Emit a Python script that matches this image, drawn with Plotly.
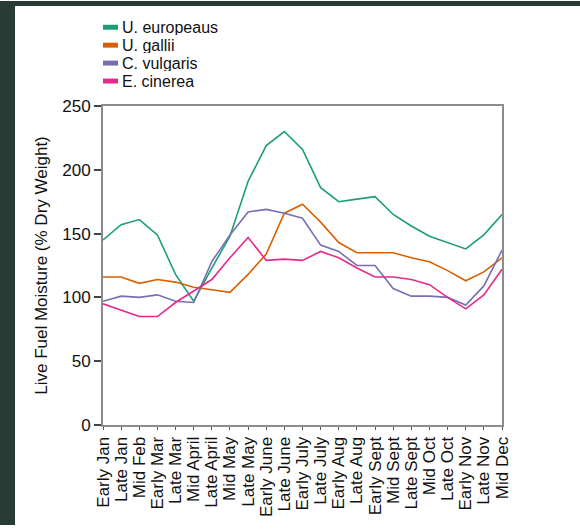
import plotly.graph_objects as go

periods = ["Early Jan", "Late Jan", "Mid Feb", "Early Mar", "Late Mar", "Mid April",
           "Late April", "Mid May", "Late May", "Early June", "Late June", "Early July",
           "Late July", "Early Aug", "Late Aug", "Early Sept", "Mid Sept", "Late Sept",
           "Mid Oct", "Late Oct", "Early Nov", "Late Nov", "Mid Dec"]

u_europeaus = [145, 157, 161, 149, 118, 97, 123, 148, 191, 219, 230, 216, 186, 175, 177, 179,
               165, 156, 148, 143, 138, 149, 165]
u_gallii = [116, 116, 111, 114, 112, 108, 106, 104, 118, 134, 166, 173, 159, 143, 135, 135,
            135, 131, 128, 121, 113, 120, 131]
c_vulgaris = [97, 101, 100, 102, 97, 96, 128, 149, 167, 169, 166, 162, 141, 136, 125, 125,
              107, 101, 101, 100, 94, 109, 137]
e_cinerea = [95, 90, 85, 85, 96, 105, 114, 131, 147, 129, 130, 129, 136, 131, 123, 116,
             116, 114, 110, 100, 91, 102, 122]

series_names = ["U. europeaus", "U. gallii", "C. vulgaris", "E. cinerea"]
series_values = [u_europeaus, u_gallii, c_vulgaris, e_cinerea]
series_colors = ["#1b9e77", "#d95f02", "#7570b3", "#e7298a"]

W, H = 580, 529
ML, MR, MT, MB = 103, 78, 106, 101
PW, PH = W - ML - MR, H - MT - MB

def px_x(x):
    return (x - ML) / PW

def px_y(y):
    return (H - MB - y) / PH

fig = go.Figure()
for name, vals, col in zip(series_names, series_values, series_colors):
    fig.add_trace(go.Scatter(x=periods, y=vals, mode="lines", name=name,
                             line=dict(color=col, width=1.6), showlegend=False))

shapes = []
# dark frame strips
shapes.append(dict(type="rect", xref="paper", yref="paper", x0=px_x(0), x1=px_x(15),
                   y0=px_y(0), y1=px_y(H), fillcolor="#293b35", line_width=0, layer="below"))
shapes.append(dict(type="rect", xref="paper", yref="paper", x0=px_x(0), x1=px_x(W),
                   y0=px_y(0), y1=px_y(5), fillcolor="#293b35", line_width=0, layer="below"))

annotations = []
legend_rows = [26.5, 44.6, 62.7, 80.8]
for name, col, yy in zip(series_names, series_colors, legend_rows):
    shapes.append(dict(type="rect", xref="paper", yref="paper", x0=px_x(103), x1=px_x(118),
                       y0=px_y(yy + 2.5), y1=px_y(yy - 2.5), fillcolor=col, line_width=0))
    annotations.append(dict(xref="paper", yref="paper", x=px_x(121), y=px_y(yy),
                            text=name, showarrow=False, xanchor="left", yanchor="middle",
                            height=16, borderpad=0,
                            font=dict(size=16, color="#111")))

fig.update_layout(
    width=W, height=H,
    margin=dict(l=ML, r=MR, t=MT, b=MB, pad=0),
    paper_bgcolor="white", plot_bgcolor="white",
    font=dict(family="Liberation Sans, Arial, sans-serif", size=17, color="#111"),
    shapes=shapes, annotations=annotations,
    showlegend=False,
)
fig.update_xaxes(type="category", range=[0, len(periods) - 1], tickangle=-90,
                 tickmode="array", tickvals=periods, ticktext=periods,
                 showgrid=False, zeroline=False, showline=True, linecolor="#8c8c8c",
                 linewidth=2, mirror=True, ticks="outside", ticklen=3, tickcolor="#555",
                 tickfont=dict(size=17))
fig.update_yaxes(range=[0, 250], dtick=50, showgrid=False, zeroline=False, showline=True,
                 linecolor="#8c8c8c", linewidth=2, mirror=True, ticks="outside", ticklen=7,
                 tickwidth=1.5, tickcolor="#444", tickfont=dict(size=17),
                 title=dict(text="Live Fuel Moisture (% Dry Weight)", font=dict(size=17),
                            standoff=10))

fig.write_html("out.html", config={"displayModeBar": False},
               post_script="document.body.style.margin='0';")
